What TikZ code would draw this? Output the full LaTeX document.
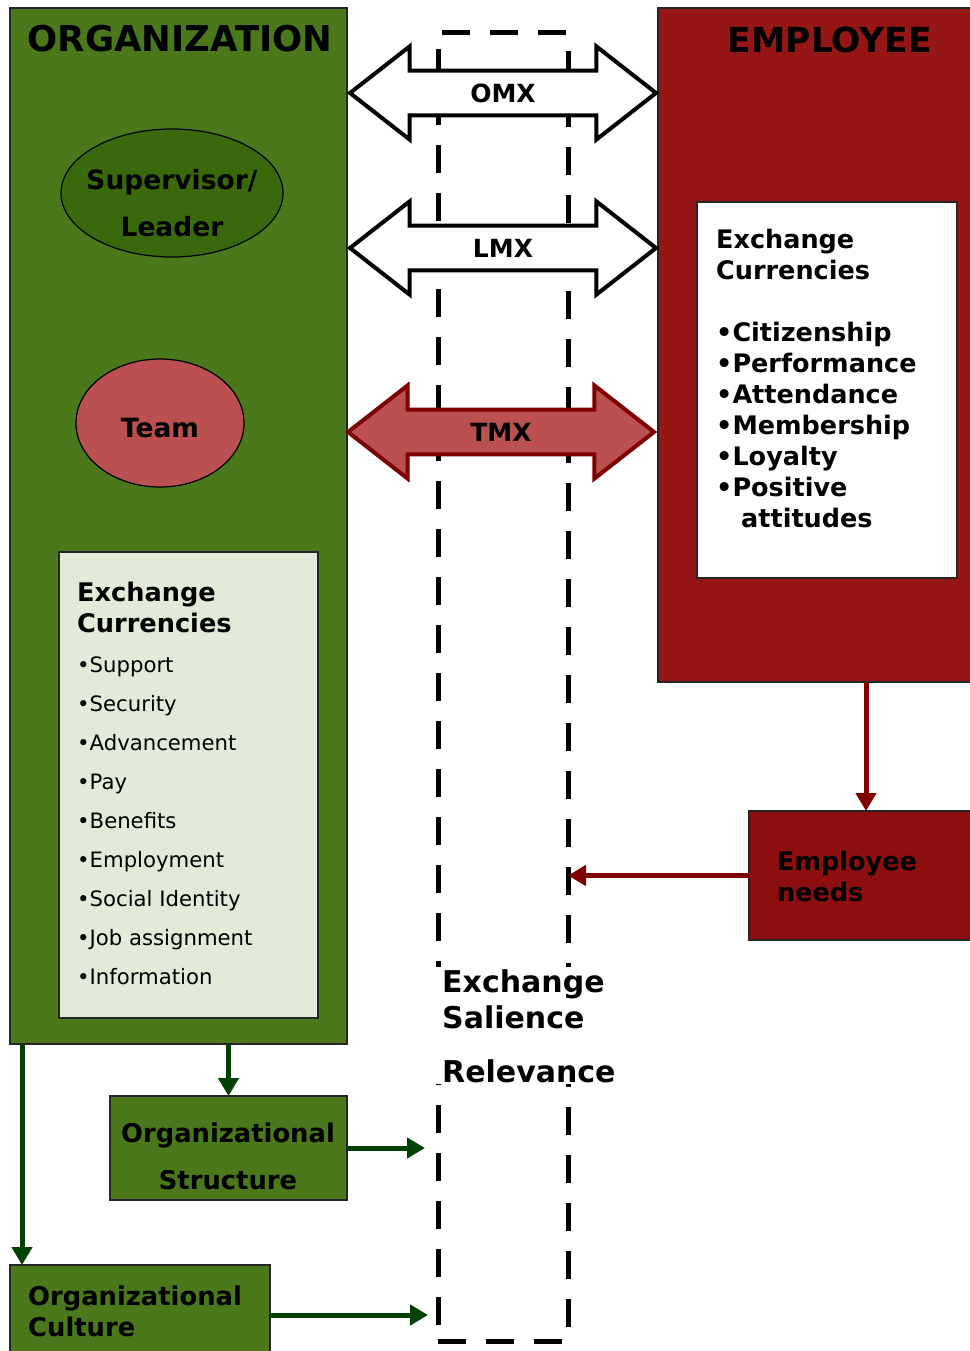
\documentclass[tikz,border=0pt]{standalone}
\usepackage{fontspec}
\setmainfont{DejaVu Sans}
\usetikzlibrary{arrows.meta,positioning,shapes.geometric,shapes.arrows,calc}
\definecolor{orggreen}{RGB}{74,120,26}
\definecolor{leadgreen}{RGB}{58,104,12}
\definecolor{arrgreen}{RGB}{0,64,0}
\definecolor{empred}{RGB}{150,22,22}
\definecolor{needred}{RGB}{140,14,14}
\definecolor{arrred}{RGB}{128,0,0}
\definecolor{teamred}{RGB}{186,80,80}
\definecolor{paleg}{RGB}{226,234,216}

\begin{document}
\begin{tikzpicture}[x=1pt,y=-1pt,
  box/.style={draw=black!85, line width=1.5pt, outer sep=0pt, inner sep=0pt, anchor=north west},
  xarrow/.style={double arrow, draw, line width=4pt, minimum height=306pt, minimum width=93pt,
    double arrow head extend=24pt, double arrow tip angle=76, inner xsep=0pt, inner ysep=11pt, outer sep=0pt,
    font=\fontsize{25}{28}\selectfont\bfseries},
  garrow/.style={draw=arrgreen, line width=5pt, -{Triangle[length=18pt,width=20pt]}},
  rarrow/.style={draw=arrred, line width=5pt, -{Triangle[length=18pt,width=20pt]}}]
  \useasboundingbox (0,0) rectangle (969,1351);

  % Organization side (left, green)
  \node[box, fill=orggreen, minimum width=337pt, minimum height=1036pt] (org) at (10,8) {};
  \node[font=\fontsize{35.5}{40}\selectfont\bfseries] (orgt) at (180,39) {ORGANIZATION};
  \node[ellipse, draw=black, line width=1.2pt, fill=leadgreen, minimum width=222pt, minimum height=128pt] (lead) at (172,193) {};
  \node[align=center, font=\fontsize{26.5}{47}\selectfont\bfseries] (leadt) at (lead.center) [yshift=-10pt] {Supervisor/\\Leader};
  \node[ellipse, draw=black, line width=1.2pt, fill=teamred, minimum width=168pt, minimum height=128pt] (team) at (160,423) {};
  \node[font=\fontsize{26.5}{30}\selectfont\bfseries] (teamt) at (team.center) [yshift=-5pt] {Team};

  % Organization currencies
  \node[box, fill=paleg, minimum width=259pt, minimum height=466pt] (ocur) at (59,552) {};
  \node[anchor=north west, inner sep=0pt, align=left, font=\fontsize{25.6}{31}\selectfont\bfseries] (ocurt) at (77,582) {Exchange\\Currencies};
  \node[anchor=north west, inner sep=0pt, align=left, font=\fontsize{21.2}{39}\selectfont] (ocurl) at (77,657)
    {•Support\\•Security\\•Advancement\\•Pay\\•Benefits\\•Employment\\•Social Identity\\•Job assignment\\•Information};

  % Employee side (right, red)
  \node[box, fill=empred, minimum width=320pt, minimum height=674pt] (emp) at (658,8) {};
  \node[font=\fontsize{34.5}{40}\selectfont\bfseries] (empt) at (830,40) {EMPLOYEE};
  \node[box, fill=white, minimum width=260pt, minimum height=376pt] (ecur) at (697,202) {};
  \node[anchor=north west, inner sep=0pt, align=left, font=\fontsize{25.5}{31}\selectfont\bfseries] (ecurl) at (716,229)
    {Exchange\\Currencies\\[31pt]•Citizenship\\•Performance\\•Attendance\\•Membership\\•Loyalty\\•Positive\\\hspace{25pt}attitudes};

  % Employee needs
  \node[box, fill=needred, minimum width=234pt, minimum height=129pt] (need) at (749,811) {};
  \node[anchor=north west, inner sep=0pt, align=left, font=\fontsize{25.5}{31}\selectfont\bfseries] (needt) at (777,851) {Employee\\needs};

  % Salience zone (centre, dashed)
  \node[box, draw=black, line width=5pt, dash pattern=on 28pt off 20pt, minimum width=130pt, minimum height=1308pt] (sal) at (438,33) {};
  \node[anchor=north west, fill=white, inner xsep=7pt, inner ysep=2pt, align=left, font=\fontsize{30}{36}\selectfont\bfseries] (salt) at (435,967)
    {Exchange\\Salience\\[18pt]Relevance};

  % Exchange arrows
  \node[xarrow, fill=white] (omx) at (503,93) {OMX};
  \node[xarrow, fill=white] (lmx) at (503,248) {LMX};
  \node[xarrow, fill=teamred, draw=arrred] (tmx) at (501,432) {TMX};

  % Structure and culture
  \node[box, fill=orggreen, minimum width=237pt, minimum height=104pt] (struct) at (110,1096) {};
  \node[align=center, font=\fontsize{25.8}{47}\selectfont\bfseries] (structt) at (228,1156) {Organizational\\Structure};
  \node[box, fill=orggreen, minimum width=260pt, minimum height=100pt] (cult) at (10,1265) {};
  \node[anchor=north west, inner sep=0pt, align=left, font=\fontsize{25.8}{31}\selectfont\bfseries] (cultt) at (28,1286) {Organizational\\Culture};

  % Connectors
  \draw[rarrow] (emp.south -| need.north) -- (need.north);
  \draw[rarrow] (need.west) -- (need.west -| sal.east);
  \draw[garrow] (struct.north |- org.south) -- (struct.north);
  \draw[garrow] ($(org.south west)+(12,0)$) -- ($(cult.north west)+(12,0)$);
  \draw[garrow, shorten >=13pt] (struct.east) -- (struct.east -| sal.west);
  \draw[garrow, shorten >=10pt] ($(cult.north east)+(0,50)$) -- ($(cult.north east -| sal.west)+(0,50)$);
\end{tikzpicture}
\end{document}
